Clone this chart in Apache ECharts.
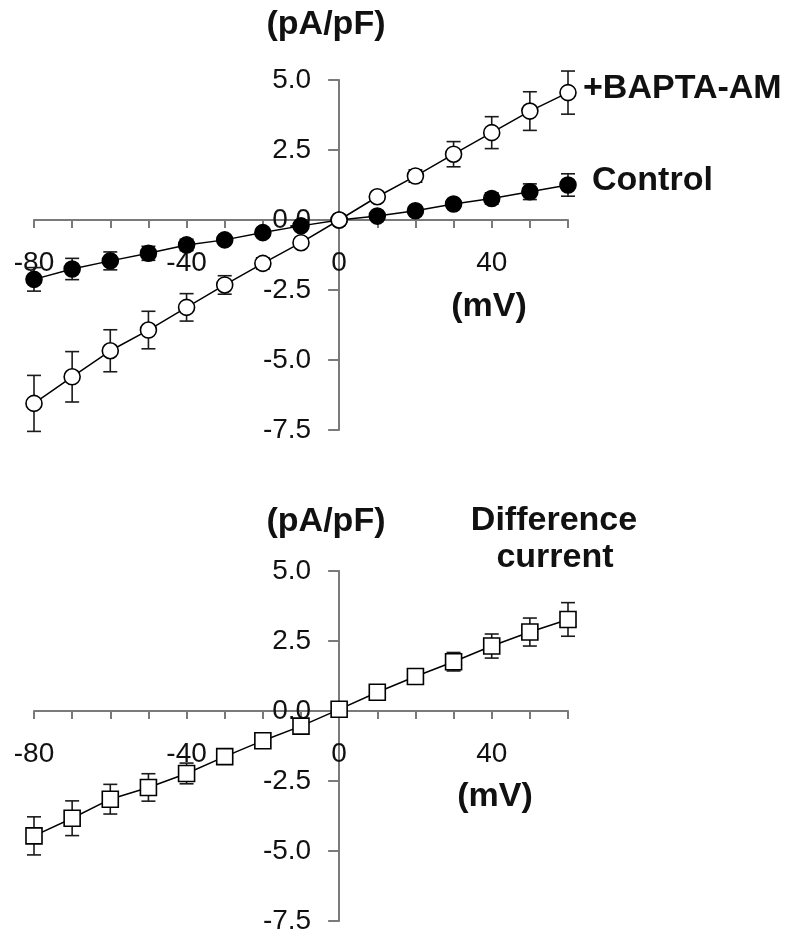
<!DOCTYPE html>
<html>
<head>
<meta charset="utf-8">
<script src="https://cdn.jsdelivr.net/npm/echarts@6/dist/echarts.min.js"></script>
<style>
  html, body { margin: 0; padding: 0; background: #fff; }
  #chart { width: 793px; height: 938px; }
</style>
</head>
<body>
<div id="chart"></div>
<script>
// membrane potential (mV)
var voltages = [-80, -70, -60, -50, -40, -30, -20, -10, 0, 10, 20, 30, 40, 50, 60];

// top panel: current density (pA/pF), mean and SEM
var baptaMean = [-6.55, -5.6, -4.67, -3.93, -3.12, -2.32, -1.55, -0.81, 0, 0.83, 1.57, 2.35, 3.12, 3.89, 4.55];
var baptaErr  = [1.0, 0.9, 0.75, 0.67, 0.49, 0.33, 0.2, 0.15, 0.05, 0.15, 0.22, 0.45, 0.57, 0.69, 0.77];
var controlMean = [-2.12, -1.75, -1.46, -1.19, -0.89, -0.71, -0.45, -0.21, 0, 0.14, 0.33, 0.57, 0.77, 1.01, 1.25];
var controlErr  = [0.42, 0.38, 0.32, 0.25, 0.2, 0.15, 0.12, 0.1, 0.05, 0.1, 0.12, 0.15, 0.2, 0.28, 0.4];

// bottom panel: difference current
var diffMean = [-4.46, -3.83, -3.15, -2.73, -2.23, -1.63, -1.06, -0.54, 0.06, 0.67, 1.23, 1.76, 2.32, 2.82, 3.27];
var diffErr  = [0.68, 0.62, 0.53, 0.49, 0.37, 0.2, 0.15, 0.12, 0.05, 0.12, 0.15, 0.33, 0.43, 0.5, 0.6];

var yTicks = [-7.5, -5.0, -2.5, 0.0, 2.5, 5.0];
var xLabelled = [-80, -40, 0, 40];

var chart = echarts.init(document.getElementById('chart'));

var axisGray = '#7a7a7a';
var tickFont = 'Liberation Sans, Arial, sans-serif';
var boldFont = 'bold 34px Liberation Sans, Arial, sans-serif';

// plot box shared by both panels
var gLeft = 34, gWidth = 534, gHeight = 350;
var xMin = -80, xMax = 60;
var yMin = yTicks[0], yMax = yTicks[yTicks.length - 1];
// shift the axes so they cross at the origin (labels go with them)
var xShift = -gHeight * (0 - yMin) / (yMax - yMin);
var yShift = -gWidth * (0 - xMin) / (xMax - xMin);

function pairs(mean) {
    var out = [];
    for (var i = 0; i < voltages.length; i++) out.push([voltages[i], mean[i]]);
    return out;
}
function errData(mean, err) {
    var out = [];
    for (var i = 0; i < voltages.length; i++) out.push([voltages[i], mean[i] - err[i], mean[i] + err[i]]);
    return out;
}

// error bar with caps
function renderErr(params, api) {
    var x = api.value(0);
    var lo = api.coord([x, api.value(1)]);
    var hi = api.coord([x, api.value(2)]);
    var w = 7;
    var st = { stroke: '#1a1a1a', lineWidth: 1.6 };
    return {
        type: 'group',
        children: [
            { type: 'line', shape: { x1: hi[0], y1: hi[1], x2: lo[0], y2: lo[1] }, style: st },
            { type: 'line', shape: { x1: hi[0] - w, y1: hi[1], x2: hi[0] + w, y2: hi[1] }, style: st },
            { type: 'line', shape: { x1: lo[0] - w, y1: lo[1], x2: lo[0] + w, y2: lo[1] }, style: st }
        ]
    };
}

function makeX(idx) {
    return {
        type: 'value', gridIndex: idx, min: xMin, max: xMax, interval: 10,
        position: 'bottom', offset: xShift,
        axisLine: { onZero: false, lineStyle: { color: axisGray, width: 2 } },
        axisTick: { length: 8, lineStyle: { color: axisGray, width: 2 } },
        axisLabel: {
            margin: 29, color: '#111', fontSize: 28, fontFamily: tickFont,
            formatter: function (v) { return xLabelled.indexOf(v) >= 0 ? String(v) : ''; }
        },
        splitLine: { show: false }
    };
}
function makeY(idx) {
    return {
        type: 'value', gridIndex: idx, min: yMin, max: yMax, interval: 2.5,
        position: 'left', offset: yShift,
        axisLine: { show: true, onZero: false, lineStyle: { color: axisGray, width: 2 } },
        axisTick: { show: true, length: 11, lineStyle: { color: axisGray, width: 2 } },
        axisLabel: {
            margin: 28, color: '#111', fontSize: 28, fontFamily: tickFont,
            formatter: function (v) { return v.toFixed(1); }
        },
        splitLine: { show: false }
    };
}

function lineSeries(idx, mean, symbol, fill) {
    return {
        type: 'line', xAxisIndex: idx, yAxisIndex: idx, data: pairs(mean),
        symbol: symbol, symbolSize: 16, showAllSymbol: true, z: 5,
        lineStyle: { color: '#000', width: 1.5 },
        itemStyle: { color: fill, borderColor: '#000', borderWidth: 1.6 },
        emphasis: { disabled: true }
    };
}
function errSeries(idx, mean, err) {
    return {
        type: 'custom', xAxisIndex: idx, yAxisIndex: idx, z: 3,
        renderItem: renderErr, data: errData(mean, err)
    };
}

function label(text, x, y, align) {
    return {
        type: 'text', x: x, y: y,
        style: { text: text, fill: '#111', font: boldFont, align: align || 'center', verticalAlign: 'middle' }
    };
}

var option = {
    backgroundColor: '#fff',
    animation: false,
    grid: [
        { left: gLeft, width: gWidth, top: 80, height: gHeight, outerBoundsMode: 'none', containLabel: false },
        { left: gLeft, width: gWidth, top: 571, height: gHeight, outerBoundsMode: 'none', containLabel: false }
    ],
    xAxis: [makeX(0), makeX(1)],
    yAxis: [makeY(0), makeY(1)],
    series: [
        errSeries(0, controlMean, controlErr),
        errSeries(0, baptaMean, baptaErr),
        lineSeries(0, controlMean, 'circle', '#000'),
        lineSeries(0, baptaMean, 'circle', '#fff'),
        errSeries(1, diffMean, diffErr),
        lineSeries(1, diffMean, 'rect', '#fff')
    ],
    graphic: [
        label('(pA/pF)', 326, 25),
        label('(mV)', 489, 307),
        label('+BAPTA-AM', 583, 89, 'left'),
        label('Control', 592, 181, 'left'),
        label('(pA/pF)', 326, 522),
        label('Difference', 554, 521),
        label('current', 555, 558),
        label('(mV)', 495, 797)
    ]
};

chart.setOption(option);
</script>
</body>
</html>
